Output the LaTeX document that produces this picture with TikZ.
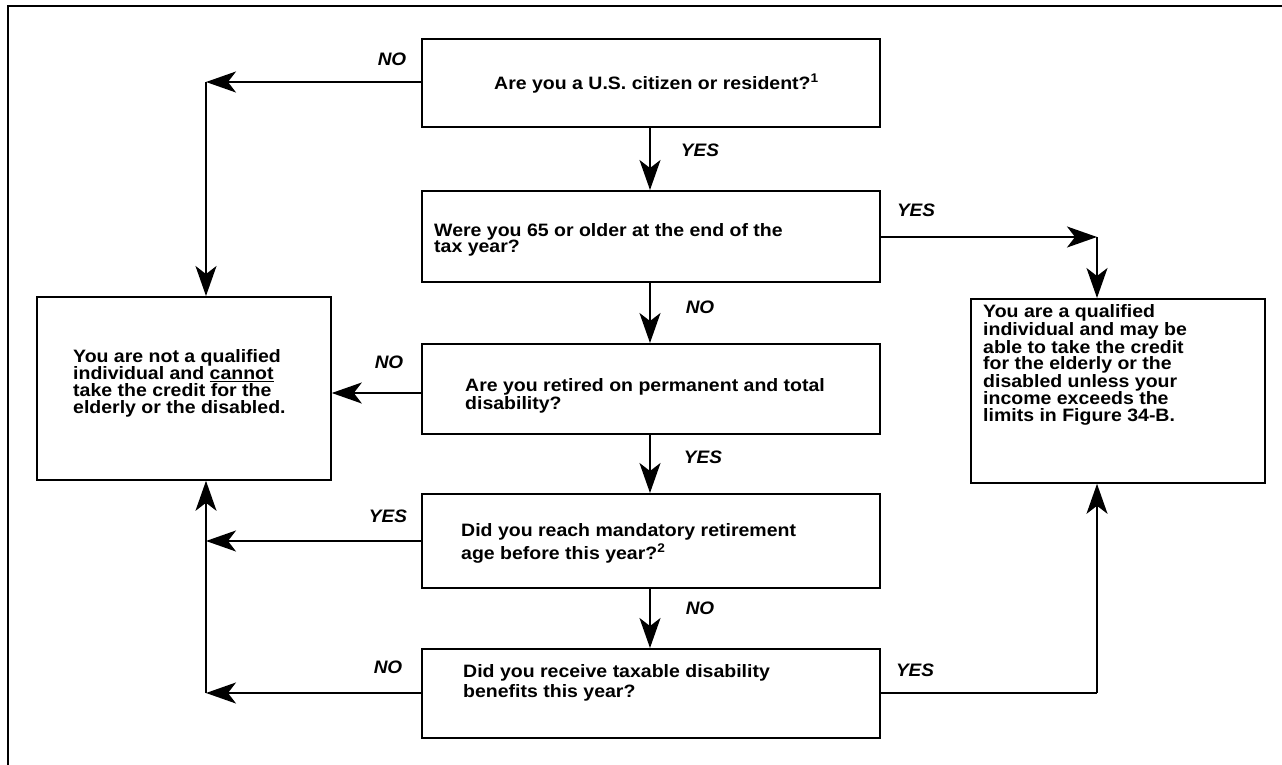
\documentclass[tikz,border=0pt]{standalone}
\usepackage{fontspec}
\setmainfont{Liberation Sans}
\usetikzlibrary{arrows.meta}
\begin{document}
\begin{tikzpicture}[x=1pt,y=-1pt,
  box/.style={draw, line width=1.8pt, inner sep=0pt, anchor=north west},
  txt/.style={font=\fontsize{19.5}{18}\selectfont\bfseries, align=left, inner sep=0pt, anchor=west, yscale=0.92},
  lbl/.style={font=\fontsize{19}{19}\selectfont\bfseries\itshape, inner sep=0pt, yscale=0.95},
  conn/.style={line width=1.8pt},
  arr/.style={conn, -{Stealth[length=30pt, width=21pt, inset=8pt]}}]
\useasboundingbox (0,0) rectangle (1282,765);
% frame
\draw[line width=1.6pt] (8,800) -- (8,6) -- (1300,6);
% boxes
\node[box, minimum width=458pt, minimum height=88pt] (q1) at (421,38) {};
\node[box, minimum width=458pt, minimum height=91pt] (q2) at (421,190) {};
\node[box, minimum width=458pt, minimum height=90pt] (q3) at (421,343) {};
\node[box, minimum width=458pt, minimum height=94pt] (q4) at (421,493) {};
\node[box, minimum width=458pt, minimum height=89pt] (q5) at (421,648) {};
\node[box, minimum width=294pt, minimum height=183pt] (notq) at (36,296) {};
\node[box, minimum width=294pt, minimum height=184pt] (qual) at (970,298) {};
% texts
\node[txt] (t1) at (494,84) {Are you a U.S. citizen or resident?\textsuperscript{1}};
\node[txt] (t2) at (434,240) {Were you 65 or older at the end of the\\tax year?};
\node[txt] (t3) at (465,396) {Are you retired on permanent and total\\disability?};
\node[txt] (t4) at (461,543) {Did you reach mandatory retirement\\[3pt]age before this year?\textsuperscript{2}};
\node[txt] (t5) at (463,683) {Did you receive taxable disability\\[3pt]benefits this year?};
\node[txt] (t6) at (73,383) {You are not a qualified\\individual and \underline{cannot}\\take the credit for the\\elderly or the disabled.};
\node[txt] (t7) at (983,365) {You are a qualified\\individual and may be\\able to take the credit\\for the elderly or the\\disabled unless your\\income exceeds the\\limits in Figure 34-B.};
% labels
\node[lbl] (l1) at (392,59) {NO};
\node[lbl] (l2) at (700,150) {YES};
\node[lbl] (l3) at (916,210) {YES};
\node[lbl] (l4) at (700,307) {NO};
\node[lbl] (l5) at (389,362) {NO};
\node[lbl] (l6) at (703,457) {YES};
\node[lbl] (l7) at (388,516) {YES};
\node[lbl] (l8) at (700,608) {NO};
\node[lbl] (l9) at (388,667) {NO};
\node[lbl] (l10) at (915,670) {YES};
% coordinates
\coordinate (vx) at (650,0);
\coordinate (c1) at (206,82);
\coordinate (c2) at (1097,237);
\coordinate (y3) at (0,393);
\coordinate (c4) at (206,541);
\coordinate (c5) at (206,693);
\coordinate (c6) at (1097,693);
% vertical main flow
\draw[arr] (q1.south -| vx) -- (q2.north -| vx);
\draw[arr] (q2.south -| vx) -- (q3.north -| vx);
\draw[arr] (q3.south -| vx) -- (q4.north -| vx);
\draw[arr] (q4.south -| vx) -- (q5.north -| vx);
% left branches
\draw[arr] (q1.west |- c1) -- (c1);
\draw[arr] (c1) -- (c1 |- notq.north);
\draw[arr] (q3.west |- y3) -- (notq.east |- y3);
\draw[arr] (q4.west |- c4) -- (c4);
\draw[arr] (q5.west |- c5) -- (c5);
\draw[arr] (c5) -- (c5 |- notq.south);
% right branches
\draw[arr] (q2.east |- c2) -- (c2);
\draw[arr] (c2) -- (c2 |- qual.north);
\draw[conn] (q5.east |- c6) -- (c6);
\draw[arr] (c6) -- (c6 |- qual.south);
\end{tikzpicture}
\end{document}
